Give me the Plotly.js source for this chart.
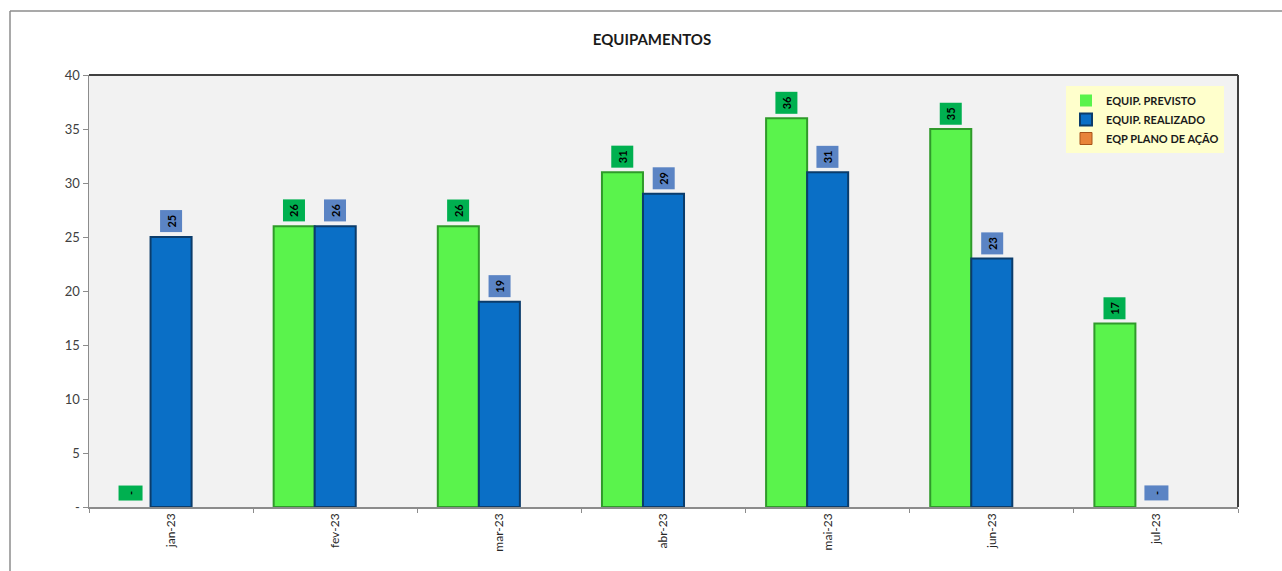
<!DOCTYPE html>
<html>
<head>
<meta charset="utf-8">
<script src="https://cdn.plot.ly/plotly-3.0.1.min.js"></script>
<style>html,body{margin:0;padding:0;background:#fff;}#chart{width:1282px;height:571px;}</style>
</head>
<body>
<div id="chart"></div>
<script>
const categories = ["jan-23", "fev-23", "mar-23", "abr-23", "mai-23", "jun-23", "jul-23"];
const previsto = [0, 26, 26, 31, 36, 35, 17];
const realizado = [25, 26, 19, 29, 31, 23, 0];
const planoAcao = [null, null, null, null, null, null, null];
const seriesNames = ["EQUIP. PREVISTO", "EQUIP. REALIZADO", "EQP PLANO DE AÇÃO"];
const yTickVals = [0, 5, 10, 15, 20, 25, 30, 35, 40];
const yTickText = ["-", "5", "10", "15", "20", "25", "30", "35", "40"];

const FONT = "Lato, 'Open Sans', sans-serif";
const lw = vals => vals.map(v => (v ? 2 : 0));

const traces = [
  {type: "bar", name: seriesNames[0], x: categories, y: previsto,
   marker: {color: "#5af34c", line: {color: "#2f9a2a", width: lw(previsto)}}},
  {type: "bar", name: seriesNames[1], x: categories, y: realizado,
   marker: {color: "#0a6fc6", line: {color: "#0b3c6b", width: lw(realizado)}}},
  {type: "bar", name: seriesNames[2], x: categories, y: planoAcao,
   marker: {color: "#e8843a", line: {color: "#a8541a", width: 1}}}
];

const annotations = [];
function addLabels(vals, offset, bg) {
  vals.forEach((v, i) => {
    if (v === null) return;
    const zero = v === 0;
    annotations.push({
      x: i + offset, y: v, xref: "x", yref: "y",
      text: "<b>" + (zero ? "-" : String(v)) + "</b>",
      textangle: -90, showarrow: false,
      yanchor: "bottom", yshift: zero ? 6 : 4,
      bgcolor: bg, borderpad: zero ? 5 : 4,
      font: {family: FONT, size: 11, color: "#000"}
    });
  });
}
addLabels(previsto, -0.25, "#00b050");
addLabels(realizado, 0, "#5b84c4");

const L = 89, R = 1238, T = 75, B = 507;
const pw = R - L, ph = B - T;
const px = v => (v - L) / pw;
const py = v => (B - v) / ph;

const shapes = [
  {type: "line", xref: "paper", yref: "paper", x0: px(10), x1: px(1282), y0: py(11), y1: py(11), line: {color: "#8c8c8c", width: 1.5}},
  {type: "line", xref: "paper", yref: "paper", x0: px(10), x1: px(10), y0: py(11), y1: py(571), line: {color: "#8c8c8c", width: 1.5}},
  {type: "line", xref: "paper", yref: "paper", x0: 0, x1: 1, y0: 1, y1: 1, line: {color: "#404040", width: 2}},
  {type: "line", xref: "paper", yref: "paper", x0: 1, x1: 1, y0: 0, y1: 1, line: {color: "#404040", width: 2}}
];

const layout = {
  width: 1282, height: 571,
  margin: {l: L, r: 1282 - R, t: T, b: 571 - B, pad: 0},
  paper_bgcolor: "#ffffff",
  plot_bgcolor: "#f2f2f2",
  barmode: "group",
  bargap: 0.25,
  bargroupgap: 0,
  title: {text: "<b>EQUIPAMENTOS</b>", x: 652 / 1282, xanchor: "center", y: 1 - 40 / 571, yanchor: "middle",
          font: {family: FONT, size: 15, color: "#1a1a1a"}},
  xaxis: {
    type: "category", tickangle: -90, tickson: "boundaries",
    ticks: "outside", ticklen: 4, tickcolor: "#8c8c8c",
    showline: true, linecolor: "#8c8c8c", linewidth: 1.5,
    showgrid: false, zeroline: false,
    tickfont: {family: FONT, size: 12, color: "#262626"},
    fixedrange: true
  },
  yaxis: {
    range: [0, 40], tickvals: yTickVals, ticktext: yTickText,
    ticks: "outside", ticklen: 5, tickcolor: "#8c8c8c",
    showline: true, linecolor: "#8c8c8c", linewidth: 1.5,
    showgrid: false, zeroline: false,
    tickfont: {family: FONT, size: 13, color: "#404040"},
    fixedrange: true
  },
  showlegend: true,
  legend: {
    x: px(1066), y: py(86), xanchor: "left", yanchor: "top",
    bgcolor: "#ffffcc", borderwidth: 0,
    font: {family: FONT, size: 11, color: "#1a1a1a", weight: "bold"},
    itemwidth: 30, tracegroupgap: 0
  },
  annotations: annotations,
  shapes: shapes
};

Plotly.newPlot("chart", traces, layout, {displayModeBar: false, staticPlot: true});
</script>
</body>
</html>
